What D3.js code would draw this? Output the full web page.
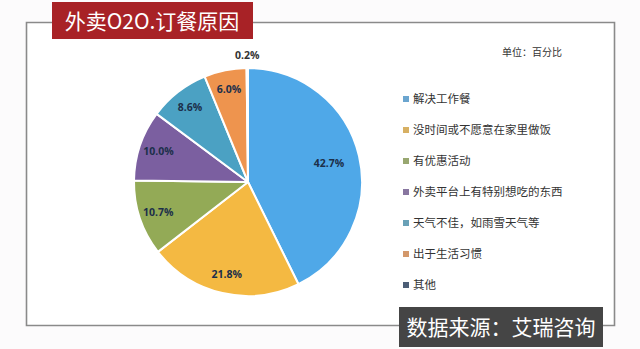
<!DOCTYPE html>
<html><head><meta charset="utf-8">
<script src="https://cdn.jsdelivr.net/npm/d3@7"></script>
<style>
html,body{margin:0;padding:0;background:#fcfbfc;}
svg{display:block;}
</style></head>
<body>
<script>
const categories = ["解决工作餐","没时间或不愿意在家里做饭","有优惠活动","外卖平台上有特别想吃的东西","天气不佳，如雨雪天气等","出于生活习惯","其他"];
const values = [42.7, 21.8, 10.7, 10.0, 8.6, 6.0, 0.2];
const colors = ["#4fa8e8","#f4b942","#93aa56","#7b5fa0","#4ba1c3","#ee944e","#1f3a5f"];
const titleText = "外卖O2O.订餐原因";
const unitText = "单位：百分比";
const sourceText = "数据来源：艾瑞咨询";

const W = 640, H = 349;
const svg = d3.select("body").append("svg").attr("width", W).attr("height", H);
svg.append("rect").attr("width", W).attr("height", H).attr("fill", "#fcfbfc");

// frame
svg.append("path")
  .attr("d", "M26.5,22.5 H614.5 V325.5 H26.5 Z")
  .attr("fill", "#fff").attr("stroke", "#8a8a8a").attr("stroke-width", 1.6);

// title box
svg.append("rect").attr("x", 52).attr("y", 2).attr("width", 201).attr("height", 37).attr("fill", "#a82226");
svg.append("text").attr("x", 152).attr("y", 29).attr("text-anchor", "middle")
  .attr("font-family", "'Noto Sans CJK SC', sans-serif").attr("font-size", 21)
  .attr("fill", "#fff").text(titleText);

// source box
svg.append("rect").attr("x", 399).attr("y", 307).attr("width", 204).attr("height", 40).attr("fill", "#454545");
svg.append("text").attr("x", 501).attr("y", 335).attr("text-anchor", "middle")
  .attr("font-family", "'Noto Sans CJK SC', sans-serif").attr("font-size", 21)
  .attr("fill", "#fff").text(sourceText);

// unit
svg.append("text").attr("x", 532).attr("y", 56).attr("text-anchor", "middle")
  .attr("font-family", "'Noto Sans CJK SC', sans-serif").attr("font-size", 10)
  .attr("fill", "#333").text(unitText);

// pie
const cx = 248, cy = 182, R = 114;
const pie = d3.pie().sort(null).value(d => d)(values);
const arc = d3.arc().innerRadius(0).outerRadius(R);
const g = svg.append("g").attr("transform", `translate(${cx},${cy})`);
g.selectAll("path.slice").data(pie).join("path")
  .attr("class", "slice")
  .attr("d", arc)
  .attr("fill", (d, i) => colors[i])
  .attr("stroke", "#fff").attr("stroke-width", 2).attr("stroke-linejoin", "round");

g.selectAll("text.lbl").data(pie).join("text")
  .attr("class", "lbl")
  .attr("transform", d => {
    const a = (d.startAngle + d.endAngle) / 2;
    let r = R * 0.83;
    if (d.value > 30) r = R * 0.73;
    if (d.value < 1) r = R + 13;
    return `translate(${r * Math.sin(a)},${-r * Math.cos(a)})`;
  })
  .attr("text-anchor", "middle").attr("dy", "0.35em")
  .attr("font-family", "'Open Sans', 'DejaVu Sans', sans-serif")
  .attr("font-weight", "bold").attr("font-size", 10.5)
  .attr("fill", (d, i) => d.value < 1 ? "#333" : "#1c2f4a")
  .text(d => d3.format(".1f")(d.value) + "%");

// legend
const ly = d3.scalePoint().domain(categories).range([99, 285]);
const muted = c => d3.interpolateRgb(c, "#a0a0a0")(0.35);
const lg = svg.append("g");
const items = lg.selectAll("g").data(categories).join("g")
  .attr("transform", d => `translate(403,${ly(d)})`);
items.append("rect").attr("x", 0).attr("y", -3).attr("width", 6).attr("height", 6)
  .attr("fill", (d, i) => muted(colors[i]));
items.append("text").attr("x", 10).attr("y", 0).attr("dy", "0.36em")
  .attr("font-family", "'Noto Sans CJK SC', sans-serif").attr("font-size", 11.5)
  .attr("fill", "#333").text(d => d);
</script>
</body></html>
